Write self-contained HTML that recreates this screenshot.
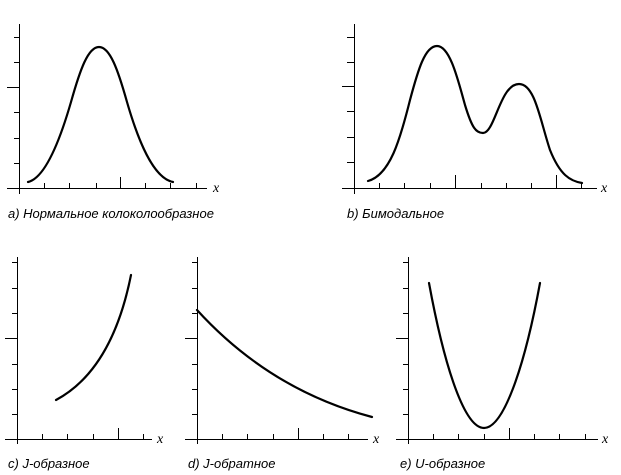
<!DOCTYPE html>
<html><head><meta charset="utf-8"><style>
body{margin:0;background:#fff;}
svg{display:block;}
text{font-family:"Liberation Sans",sans-serif;font-style:italic;font-size:13px;fill:#000;}
.x{font-family:"Liberation Serif",serif;font-size:14px;}
</style></head><body>
<svg width="621" height="475" viewBox="0 0 621 475" xmlns="http://www.w3.org/2000/svg">
<g stroke="#000" stroke-width="1" fill="none" shape-rendering="crispEdges">
<path d="M19.5,24V194 M7,188.5H207 M14,37.5h5 M14,62.5h5 M7,87.5h12 M14,112.5h5 M14,138.5h5 M14,163.5h5 M44.5,183v5 M69.5,183v5 M96.5,183v5 M120.5,177v11 M145.5,183v5 M170.5,183v5 M196.5,183v5"/>
<path d="M354.5,24V194 M342,188.5H597 M347,37.5h7 M347,62.5h7 M342,86.5h12 M347,111.5h7 M347,137.5h7 M347,162.5h7 M379.5,183v5 M404.5,183v5 M430.5,183v5 M455.5,175v13 M481.5,183v5 M506.5,183v5 M531.5,183v5 M556.5,175v13 M581.5,183v5"/>
<path d="M17.5,257V444 M5,439.5H152 M12,262.5h5 M12,288.5h5 M5,338.5h12 M12,313.5h5 M12,364.5h5 M12,389.5h5 M12,414.5h5 M42.5,434v5 M67.5,434v5 M93.5,434v5 M118.5,428v11 M143.5,434v5"/>
<path d="M197.5,257V444 M185,439.5H368 M192,262.5h5 M192,288.5h5 M185,338.5h12 M192,313.5h5 M192,364.5h5 M192,389.5h5 M192,414.5h5 M222.5,434v5 M247.5,434v5 M273.5,434v5 M298.5,428v11 M323.5,434v5 M348.5,434v5"/>
<path d="M408.5,257V444 M396,439.5H598 M403,262.5h5 M403,288.5h5 M396,338.5h12 M403,313.5h5 M403,364.5h5 M403,389.5h5 M403,414.5h5 M433.5,434v5 M458.5,434v5 M484.5,434v5 M509.5,428v11 M534.5,434v5 M559.5,434v5 M585.5,434v5"/>
</g>
<g stroke="#000" stroke-width="2.2" fill="none" stroke-linecap="round">
<path d="M28,182 C45,178 60,140 71,102 C80,70 88,47 99,47 C110,47 118,70 127,102 C138,140 153,178 173,182"/>
<path d="M368,181 C390,175 400,140 410,100 C418,70 425,46 437,46 C450,46 458,80 465,105 C472,128 476,133 483,133 C495,133 500,84 519,84 C535,84 540,120 550,150 C560,175 570,181 582,183"/>
<path d="M56,400 Q112,370 131,275"/>
<path d="M197,310 Q270,390 372,417"/>
<path d="M429,283 C445,370 465,428 484,428 C503,428 524,370 540,283"/>
</g>
<text class="x" x="213" y="192">x</text>
<text class="x" x="601" y="192">x</text>
<text class="x" x="157" y="443">x</text>
<text class="x" x="373" y="443">x</text>
<text class="x" x="602" y="443">x</text>
<text x="8" y="218">a) Нормальное колоколообразное</text>
<text x="347" y="218">b) Бимодальное</text>
<text x="8" y="468">c) J-образное</text>
<text x="188" y="468">d) J-обратное</text>
<text x="400" y="468">e) U-образное</text>
</svg>
</body></html>
